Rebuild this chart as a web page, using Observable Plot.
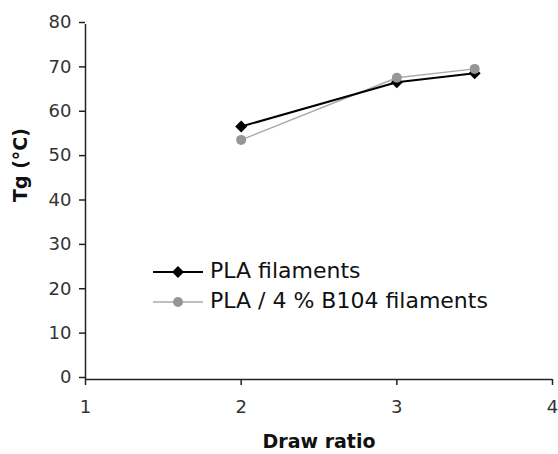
<!DOCTYPE html>
<html><head><meta charset="utf-8">
<script src="https://cdn.jsdelivr.net/npm/d3@7"></script>
<script src="https://cdn.jsdelivr.net/npm/@observablehq/plot@0.6"></script>
<style>
body{margin:0;background:#fff;}
#wrap{position:relative;width:558px;height:454px;}
#legend{position:absolute;left:0;top:0;pointer-events:none;}
</style></head><body><div id="wrap"></div>
<script>
const drawRatio = [2, 3, 3.5];
const tgPLA = [57, 67, 69];
const tgB104 = [54, 68, 70];
const seriesNames = ["PLA filaments", "PLA / 4 % B104 filaments"];
const xTicks = [1, 2, 3, 4];
const yTicks = [0, 10, 20, 30, 40, 50, 60, 70, 80];
const xLabel = "Draw ratio";
const yLabel = "Tg (°C)";

const pla = drawRatio.map((x, i) => ({x, y: tgPLA[i]}));
const b104 = drawRatio.map((x, i) => ({x, y: tgB104[i]}));

const axisColor = "#222";
const grayLine = "#aaaaaa";
const grayDot = "#969696";

const chart = Plot.plot({
  width: 558, height: 454,
  marginLeft: 85, marginRight: 6, marginTop: 24, marginBottom: 75,
  style: {fontFamily: "DejaVu Sans", fontSize: "18px", background: "#fff", color: axisColor},
  x: {domain: [1, 4]},
  y: {domain: [0, 80]},
  marks: [
    Plot.axisY(yTicks, {tickSize: 6, tickPadding: 8, tickFormat: "d", label: null, stroke: axisColor, strokeWidth: 1.5, fill: "#333", fontSize: 18, dy: -2}),
    Plot.axisX(xTicks, {tickSize: 6, tickPadding: 15, tickFormat: "d", label: null, stroke: axisColor, strokeWidth: 1.5, fill: "#333", fontSize: 18}),
    Plot.ruleX([1], {stroke: axisColor, strokeWidth: 1.5}),
    Plot.ruleY([0], {stroke: axisColor, strokeWidth: 1.5}),
    Plot.line(b104, {x: "x", y: "y", stroke: grayLine, strokeWidth: 1.5}),
    Plot.line(pla, {x: "x", y: "y", stroke: "#000", strokeWidth: 2}),
    Plot.dot(pla, {x: "x", y: "y", symbol: "diamond2", r: 5.4, fill: "#000", stroke: "none"}),
    Plot.dot(b104, {x: "x", y: "y", symbol: "circle", r: 5, fill: grayDot, stroke: "none"}),
    Plot.text([yLabel], {frameAnchor: "left", dx: -65, rotate: -90, fontWeight: "bold", fontSize: 19, fill: "#111", lineAnchor: "middle"}),
    Plot.text([xLabel], {frameAnchor: "bottom", dy: 62, fontWeight: "bold", fontSize: 19, fill: "#111", lineAnchor: "middle"})
  ]
});

const wrap = document.getElementById("wrap");
wrap.appendChild(chart);

// Legend overlay
const leg = d3.select(wrap).append("svg").attr("id", "legend").attr("width", 558).attr("height", 454);
const entries = [
  {name: seriesNames[0], stroke: "#000", sw: 2, sym: "diamond", fill: "#000"},
  {name: seriesNames[1], stroke: grayLine, sw: 1.5, sym: "circle", fill: grayDot}
];
entries.forEach((e, i) => {
  const cy = 272 + i * 30;
  const g = leg.append("g");
  g.append("line").attr("x1", 153).attr("x2", 203).attr("y1", cy).attr("y2", cy)
    .attr("stroke", e.stroke).attr("stroke-width", e.sw);
  if (e.sym === "diamond") {
    g.append("path").attr("transform", `translate(178,${cy})`)
      .attr("d", "M0,-6L6,0L0,6L-6,0Z").attr("fill", e.fill);
  } else {
    g.append("circle").attr("cx", 178).attr("cy", cy).attr("r", 5).attr("fill", e.fill);
  }
  g.append("text").attr("x", 210).attr("y", cy + 6)
    .attr("font-family", "DejaVu Sans").attr("font-size", 22).attr("fill", "#111")
    .text(e.name);
});
</script>
</body></html>
